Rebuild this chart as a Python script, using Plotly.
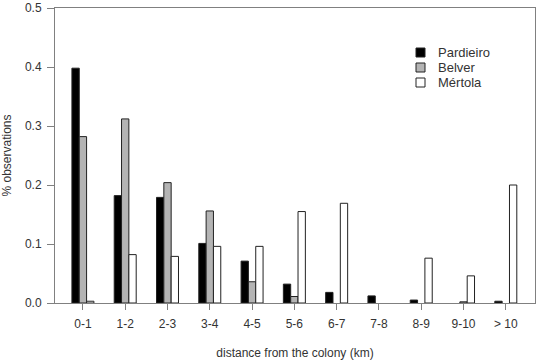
import plotly.graph_objects as go

categories = ["0-1", "1-2", "2-3", "3-4", "4-5", "5-6", "6-7", "7-8", "8-9", "9-10", "> 10"]
pardieiro = [0.398, 0.182, 0.179, 0.101, 0.071, 0.032, 0.018, 0.012, 0.005, None, 0.003]
belver = [0.282, 0.312, 0.204, 0.156, 0.036, 0.011, None, None, None, 0.002, None]
mertola = [0.003, 0.082, 0.079, 0.096, 0.096, 0.155, 0.169, None, 0.076, 0.046, 0.200]
y_ticks = [0.0, 0.1, 0.2, 0.3, 0.4, 0.5]

font_family = "Liberation Sans, Arial, sans-serif"
text_color = "#333333"
axis_color = "#808080"
edge_color = "#222222"

# plot area in pixels (for converting the legend box position)
L, R, T, B = 55, 535, 8, 303
def px_x(p):
    return (p - L) / (R - L)
def px_y(p):
    return (B - p) / (B - T)

fig = go.Figure()
series = [
    ("Pardieiro", pardieiro, "#000000"),
    ("Belver", belver, "#b4b4b4"),
    ("Mértola", mertola, "#ffffff"),
]
for name, vals, col in series:
    fig.add_trace(go.Bar(
        x=categories, y=vals, name=name, showlegend=False,
        marker=dict(color=col, line=dict(color=edge_color, width=1)),
    ))

# custom legend (compact, like the reference)
leg_sym_x = 420.5
leg_txt_x = 436
leg_rows = [52.5, 67.5, 82.5]
half = 4.5
for (name, _, col), cy in zip(series, leg_rows):
    fig.add_shape(
        type="rect", xref="paper", yref="paper",
        x0=px_x(leg_sym_x - half), x1=px_x(leg_sym_x + half),
        y0=px_y(cy + half), y1=px_y(cy - half),
        fillcolor=col, line=dict(color=edge_color, width=1),
    )
    fig.add_annotation(
        xref="paper", yref="paper", x=px_x(leg_txt_x), y=px_y(cy),
        xanchor="left", yanchor="middle", text=name, showarrow=False,
        font=dict(size=13, color=text_color, family=font_family),
    )

fig.update_layout(
    width=542, height=360,
    margin=dict(l=L, r=542 - R, t=T, b=360 - B),
    plot_bgcolor="white", paper_bgcolor="white",
    barmode="group", bargap=0.48, bargroupgap=0,
    font=dict(family=font_family, size=12, color=text_color),
    showlegend=False,
)
fig.update_xaxes(
    range=[-0.66, 10.69], automargin=False,
    showline=True, linecolor=axis_color, linewidth=1, mirror=True,
    ticks="outside", ticklen=6, tickcolor=axis_color,
    showgrid=False, zeroline=False,
    tickfont=dict(size=12, color=text_color),
    ticklabelstandoff=4,
    title=dict(text="distance from the colony (km)", font=dict(size=12, color=text_color), standoff=20),
)
fig.update_yaxes(
    range=[0, 0.5], tickvals=y_ticks, tickformat=".1f", automargin=False,
    showline=True, linecolor=axis_color, linewidth=1, mirror=True,
    ticks="outside", ticklen=7, tickcolor=axis_color,
    showgrid=False, zeroline=False,
    tickfont=dict(size=12, color=text_color),
    ticklabelstandoff=3,
    title=dict(text="% observations", font=dict(size=12, color=text_color), standoff=12),
)

fig.write_html("out.html")
